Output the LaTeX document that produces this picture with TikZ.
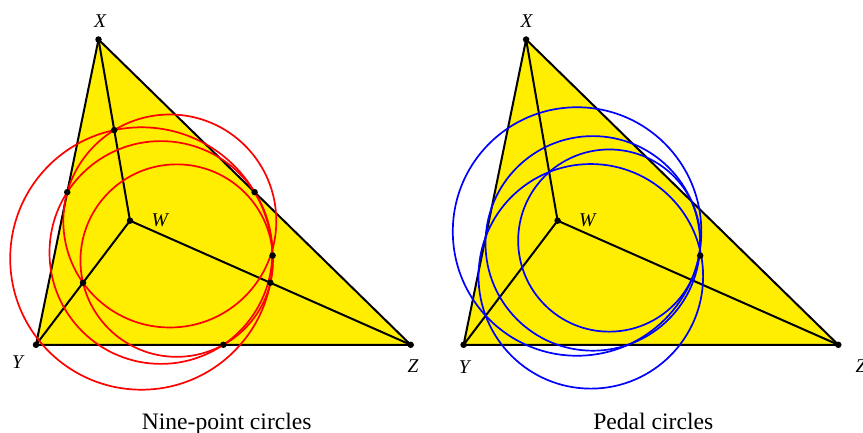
\documentclass[tikz,border=0pt]{standalone}
\usepackage{fontspec}
\setmainfont{Liberation Serif}
\usetikzlibrary{calc}
\definecolor{triyellow}{RGB}{255,238,0}
\begin{document}
\begin{tikzpicture}[x=1pt,y=-1pt,
  tri/.style={fill=triyellow,draw=black,line width=2pt,line join=round},
  seg/.style={draw=black,line width=2pt},
  ncirc/.style={draw=red,line width=1.7pt},
  pcirc/.style={draw=blue,line width=1.7pt},
  dot/.style={circle,fill=black,inner sep=0pt,minimum size=6.5pt},
  lab/.style={font=\fontsize{19.5}{22}\selectfont\itshape,inner sep=0pt},
  captext/.style={font=\fontsize{23.6}{26}\selectfont,anchor=base,inner sep=0pt}]
\useasboundingbox (0,0) rectangle (863,433);
% ---------- left panel: nine-point circles ----------
\coordinate (X1) at (98.5,39.5);
\coordinate (Y1) at (36,344.8);
\coordinate (Z1) at (410.7,344.8);
\coordinate (W1) at (130,220.7);
\path[tri] (X1) -- (Y1) -- (Z1) -- cycle;
\draw[seg] (W1) -- (X1);
\draw[seg] (W1) -- (Y1);
\draw[seg] (W1) -- (Z1);
\draw[ncirc] (160.9,252.5) circle[radius=111.4pt];
\draw[ncirc] (176.7,260.6) circle[radius=96.25pt];
\draw[ncirc] (169.8,221.0) circle[radius=106.5pt];
\draw[ncirc] (141.4,258.5) circle[radius=131.2pt];
\node[dot] (dX1) at (X1) {};
\node[dot] (dY1) at (Y1) {};
\node[dot] (dZ1) at (Z1) {};
\node[dot] (dW1) at (W1) {};
\node[dot] (mXY) at ($(X1)!0.5!(Y1)$) {};
\node[dot] (mXZ) at ($(X1)!0.5!(Z1)$) {};
\node[dot] (mYZ) at ($(Y1)!0.5!(Z1)$) {};
\node[dot] (mWX) at ($(W1)!0.5!(X1)$) {};
\node[dot] (mWY) at ($(W1)!0.5!(Y1)$) {};
\node[dot] (mWZ) at ($(W1)!0.5!(Z1)$) {};
\node[dot] (P1) at (272.6,255.6) {};
\node[lab] (lX1) at (100,20.7) {X};
\node[lab] (lY1) at (17.5,361.7) {Y};
\node[lab] (lZ1) at (413,366) {Z};
\node[lab] (lW1) at (159.8,220.5) {W};
\node[captext] (c1) at (226.7,429.5) {Nine-point circles};
% ---------- right panel: pedal circles ----------
\coordinate (X2) at (526.1,39.5);
\coordinate (Y2) at (463.6,344.8);
\coordinate (Z2) at (838.3,344.8);
\coordinate (W2) at (557.6,220.7);
\path[tri] (X2) -- (Y2) -- (Z2) -- cycle;
\draw[seg] (W2) -- (X2);
\draw[seg] (W2) -- (Y2);
\draw[seg] (W2) -- (Z2);
\draw[pcirc] (592.8,243.4) circle[radius=107.3pt];
\draw[pcirc] (577.05,231.5) circle[radius=124.25pt];
\draw[pcirc] (609.27,240.56) circle[radius=91.1pt];
\draw[pcirc] (590.82,276.33) circle[radius=112.3pt];
\node[dot] (dX2) at (X2) {};
\node[dot] (dY2) at (Y2) {};
\node[dot] (dZ2) at (Z2) {};
\node[dot] (dW2) at (W2) {};
\node[dot] (P2) at (700.2,255.6) {};
\node[lab] (lX2) at (526.7,20.7) {X};
\node[lab] (lY2) at (464.3,366.7) {Y};
\node[lab] (lZ2) at (861,366) {Z};
\node[lab] (lW2) at (587.3,220.3) {W};
\node[captext] (c2) at (653.3,429.5) {Pedal circles};
\end{tikzpicture}
\end{document}
